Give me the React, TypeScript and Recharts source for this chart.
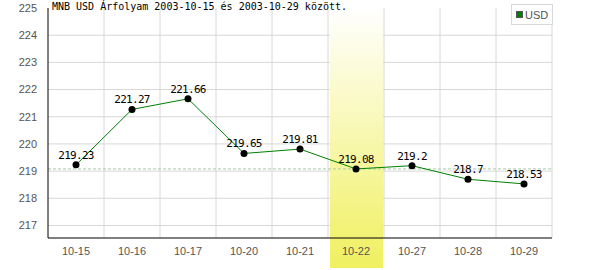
import React from "react"
import {
  ComposedChart, Line, XAxis, YAxis, CartesianGrid, ReferenceArea, ReferenceLine, LabelList,
} from "recharts"

const categories = ["10-15", "10-16", "10-17", "10-20", "10-21", "10-22", "10-27", "10-28", "10-29"]
const usdRates = [219.23, 221.27, 221.66, 219.65, 219.81, 219.08, 219.2, 218.7, 218.53]
const yTicks = [217, 218, 219, 220, 221, 222, 223, 224, 225]
const gridValues = [217, 218, 219, 220, 221, 222, 223, 224]
const highlightDay = "10-22"
const refRate = 219.08
const title = "MNB USD Árfolyam 2003-10-15 és 2003-10-29 között."

const data = categories.map((day, i) => ({ day, usd: usdRates[i] }))

const MONO = "'DejaVu Sans Mono', monospace"
const SANS = "'Liberation Sans', Arial, sans-serif"

const HighlightShape = (props: any) => {
  const { x, width } = props
  return <rect x={x + 2} y={8} width={width - 3} height={260} fill="url(#bandGrad)" />
}

export default function App() {
  return (
    <div style={{ position: "absolute", left: 0, top: 0, width: 600, height: 270, background: "#fff" }}>
      <ComposedChart width={600} height={270} data={data} margin={{ top: 8, right: 48, bottom: 0, left: 0 }}>
        <defs>
          <linearGradient id="bandGrad" x1="0" y1="0" x2="0" y2="1">
            <stop offset="0%" stopColor="#ffffff" />
            <stop offset="100%" stopColor="#f0f060" />
          </linearGradient>
        </defs>
        <ReferenceArea x1={highlightDay} x2={highlightDay} ifOverflow="visible" shape={HighlightShape} />
        <CartesianGrid
          stroke="#d8d8d8"
          horizontalValues={gridValues}
          verticalCoordinatesGenerator={({ offset }: any) =>
            categories.map((_, i) => offset.left + ((i + 1) * offset.width) / categories.length)
          }
        />
        <XAxis
          dataKey="day"
          scale="band"
          height={32}
          axisLine={{ stroke: "#000" }}
          tickLine={false}
          tick={{ fontFamily: SANS, fontSize: 11, fill: "#555" }}
          tickMargin={3}
        />
        <YAxis
          domain={[216.54, 225]}
          ticks={yTicks}
          width={48}
          axisLine={{ stroke: "#000" }}
          tickLine={false}
          tick={{ fontFamily: SANS, fontSize: 11, fill: "#555" }}
          tickMargin={5}
        />
        <ReferenceLine y={refRate} stroke="#a8c8a8" strokeDasharray="3 2" />
        <Line
          dataKey="usd"
          name="USD"
          stroke="#008000"
          strokeWidth={1}
          dot={{ r: 3.5, fill: "#000", stroke: "#000", strokeWidth: 0 }}
          isAnimationActive={false}
        >
          <LabelList
            dataKey="usd"
            position="top"
            offset={6}
            style={{ fontFamily: MONO, fontSize: 11, fill: "#000", letterSpacing: -0.7 }}
          />
        </Line>
      </ComposedChart>
      <div style={{
        position: "absolute", left: 52, top: 0, fontFamily: MONO, fontSize: 10,
        color: "#000", lineHeight: "13px", whiteSpace: "nowrap",
      }}>
        {title}
      </div>
      <div style={{
        position: "absolute", left: 511, top: 4, width: 42, height: 21, background: "#fff",
        border: "1px solid #d8d8d8", boxSizing: "border-box", display: "flex", alignItems: "center",
        paddingLeft: 4, fontFamily: SANS, fontSize: 11, color: "#555",
      }}>
        <span style={{ width: 5, height: 5, background: "#008000", border: "1px solid #555", marginRight: 2 }} />
        USD
      </div>
    </div>
  )
}
